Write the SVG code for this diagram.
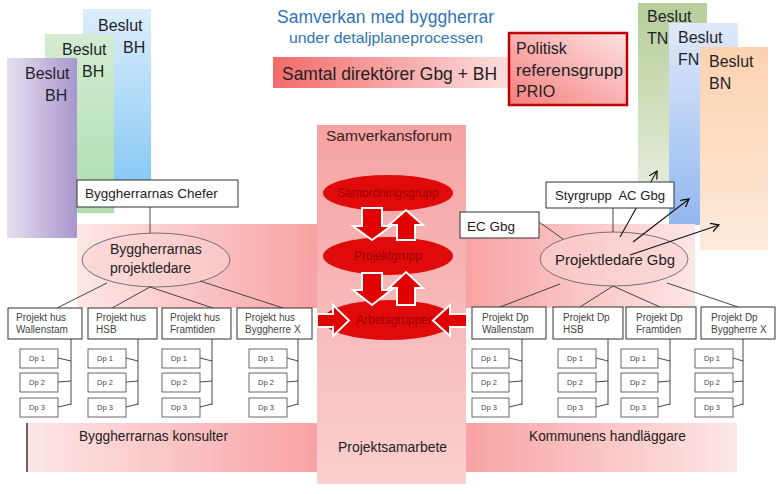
<svg xmlns="http://www.w3.org/2000/svg" width="783" height="494" viewBox="0 0 783 494">
<defs>
<linearGradient id="gPurple" x1="0" y1="0" x2="1" y2="0"><stop offset="0" stop-color="#e6dff0"/><stop offset="1" stop-color="#a897cb"/></linearGradient>
<linearGradient id="gGreenL" x1="0" y1="0" x2="0" y2="1"><stop offset="0" stop-color="#d3ecd3"/><stop offset="1" stop-color="#aedcae"/></linearGradient>
<linearGradient id="gBlueL" x1="0" y1="0" x2="0" y2="1"><stop offset="0" stop-color="#dceefb"/><stop offset="1" stop-color="#86c8f4"/></linearGradient>
<linearGradient id="gGreenR" x1="0" y1="0" x2="0" y2="1"><stop offset="0" stop-color="#b7cd9a"/><stop offset="1" stop-color="#e6eedb"/></linearGradient>
<linearGradient id="gBlueR" x1="0" y1="0" x2="0" y2="1"><stop offset="0" stop-color="#dfe9fb"/><stop offset="1" stop-color="#92b7ef"/></linearGradient>
<linearGradient id="gOrange" x1="0" y1="0" x2="0" y2="1"><stop offset="0" stop-color="#fbd2b0"/><stop offset="1" stop-color="#fdeadb"/></linearGradient>
<linearGradient id="gSamtal" x1="0" y1="0" x2="1" y2="0"><stop offset="0" stop-color="#f36b6b"/><stop offset="1" stop-color="#fde0e0"/></linearGradient>
<linearGradient id="gPolitisk" x1="0" y1="1" x2="1" y2="0"><stop offset="0" stop-color="#f57f7f"/><stop offset="1" stop-color="#fde2e2"/></linearGradient>
<linearGradient id="gBandL" x1="0" y1="0" x2="1" y2="0"><stop offset="0" stop-color="#fde6e6"/><stop offset="1" stop-color="#f8a3a3"/></linearGradient>
<linearGradient id="gBandR" x1="0" y1="0" x2="1" y2="0"><stop offset="0" stop-color="#f8a3a3"/><stop offset="1" stop-color="#fde6e6"/></linearGradient>
<linearGradient id="gCenter" x1="0" y1="0" x2="0" y2="1"><stop offset="0" stop-color="#f5a2a2"/><stop offset="1" stop-color="#fbcfcf"/></linearGradient>
<marker id="ah" viewBox="0 0 10 10" refX="9" refY="5" markerWidth="9" markerHeight="9" orient="auto" markerUnits="userSpaceOnUse"><path d="M0,0 L9,5 L0,10" fill="none" stroke="#000" stroke-width="1.3"/></marker>
</defs>
<style>
text{font-family:"Liberation Sans",Arial,sans-serif;fill:#222}
.bes{font-size:16px;fill:#1f1f2a}
.box{fill:#fff;stroke:#333;stroke-width:1}
.dp{fill:#fff;stroke:#444;stroke-width:0.8}
.pt{font-size:10px;fill:#444}
.dt{font-size:7.5px;fill:#444}
.ln{stroke:#333;stroke-width:0.9;fill:none}
.ar{stroke:#111;stroke-width:1.1;fill:none;marker-end:url(#ah)}
.blk{fill:#e00000;stroke:#fff;stroke-width:2}
.red{fill:#e00a0a}
.rt{font-size:12px;fill:#9c0000}
.pl{fill:#fad2d2;fill-opacity:0.55;stroke:#555;stroke-width:0.8}
</style>
<rect width="783" height="494" fill="#fff"/>

<g id="beslut-bh-3"><rect x="83" y="9" width="68" height="176" fill="url(#gBlueL)"/><text class="bes" x="98" y="31">Beslut</text><text class="bes" x="123" y="53">BH</text></g>
<g id="beslut-bh-2"><rect x="45" y="34" width="69" height="179" fill="url(#gGreenL)"/><text class="bes" x="62" y="55">Beslut</text><text class="bes" x="82" y="77">BH</text></g>
<g id="beslut-bh-1"><rect x="7" y="58" width="70" height="180" fill="url(#gPurple)"/><text class="bes" x="25" y="79">Beslut</text><text class="bes" x="45" y="101">BH</text></g>

<g id="beslut-tn"><rect x="638" y="3" width="69" height="192" fill="url(#gGreenR)"/><text class="bes" x="647" y="22">Beslut</text><text class="bes" x="647" y="44">TN</text></g>
<g id="beslut-fn"><rect x="669" y="23" width="69" height="202" fill="url(#gBlueR)"/><text class="bes" x="678" y="43">Beslut</text><text class="bes" x="678" y="65">FN</text></g>
<g id="beslut-bn"><rect x="700" y="47" width="68" height="203" fill="url(#gOrange)"/><text class="bes" x="709" y="67">Beslut</text><text class="bes" x="709" y="89">BN</text></g>

<g id="title">
<text x="385.5" y="23" text-anchor="middle" font-size="17.5" style="fill:#2e74b5" textLength="217" lengthAdjust="spacingAndGlyphs">Samverkan med byggherrar</text>
<text x="386" y="43" text-anchor="middle" font-size="14.5" style="fill:#2e74b5" textLength="194" lengthAdjust="spacingAndGlyphs">under detaljplaneprocessen</text>
</g>
<g id="samtal"><rect x="273" y="57" width="240" height="31" fill="url(#gSamtal)"/><text x="282" y="80" font-size="17.5" textLength="215" lengthAdjust="spacingAndGlyphs">Samtal direktörer Gbg + BH</text></g>
<g id="politisk"><rect x="509" y="33" width="118" height="72" fill="url(#gPolitisk)" stroke="#c00000" stroke-width="2.5"/><text x="516" y="54" font-size="16">Politisk</text><text x="516" y="76" font-size="16" textLength="107" lengthAdjust="spacingAndGlyphs">referensgrupp</text><text x="516" y="97" font-size="16">PRIO</text></g>

<g id="bands">
<rect x="77" y="224" width="240" height="84" fill="url(#gBandL)"/>
<rect x="466" y="224" width="229" height="84" fill="url(#gBandR)"/>
<rect x="27" y="423" width="290" height="49" fill="url(#gBandL)"/>
<rect x="466" y="423" width="271" height="49" fill="url(#gBandR)"/>
<line x1="27" y1="423" x2="27" y2="472" stroke="#333" stroke-width="1.5"/>
</g>
<g id="byggherrarnas-konsulter"><text x="79" y="441" font-size="14" textLength="149" lengthAdjust="spacingAndGlyphs">Byggherrarnas konsulter</text></g>
<g id="kommunens-handlaggare"><text x="529" y="441" font-size="14" textLength="157" lengthAdjust="spacingAndGlyphs">Kommunens handläggare</text></g>
<g id="samverkansforum"><rect x="317" y="125" width="149" height="359" fill="url(#gCenter)"/><text x="326" y="141" font-size="15.5" textLength="126" lengthAdjust="spacingAndGlyphs" style="fill:#3a2020">Samverkansforum</text><text x="338" y="452" font-size="14" textLength="109" lengthAdjust="spacingAndGlyphs">Projektsamarbete</text></g>

<g id="samordningsgrupp"><ellipse class="red" cx="388" cy="193" rx="65" ry="18"/><text class="rt" x="388" y="197" text-anchor="middle">Samordningsgrupp</text></g>
<g id="projektgrupp"><ellipse class="red" cx="388" cy="256" rx="65" ry="19"/><text class="rt" x="388" y="260" text-anchor="middle">Projektgrupp</text></g>
<g id="arbetsgrupper"><ellipse class="red" cx="389" cy="320" rx="66" ry="20"/><text class="rt" x="394" y="324" text-anchor="middle">Arbetsgrupper</text></g>

<g id="byggherrarnas-projektledare"><ellipse class="pl" cx="156" cy="260" rx="74" ry="27"/><text x="110" y="254" font-size="14">Byggherrarnas</text><text x="110" y="273" font-size="14">projektledare</text></g>
<g id="projektledare-gbg"><ellipse class="pl" cx="614" cy="259" rx="74" ry="27"/><text x="615" y="265" font-size="14.5" text-anchor="middle" textLength="120" lengthAdjust="spacingAndGlyphs">Projektledare Gbg</text></g>

<g id="connectors">
<line class="ln" x1="150" y1="207" x2="150" y2="233"/>
<line class="ln" x1="107" y1="283" x2="57" y2="308"/>
<line class="ln" x1="150" y1="287" x2="112" y2="308"/>
<line class="ln" x1="150" y1="287" x2="213" y2="308"/>
<line class="ln" x1="200" y1="281" x2="283" y2="308"/>
<line class="ln" x1="613" y1="208" x2="613" y2="232"/>
<line class="ln" x1="539" y1="222" x2="563" y2="239"/>
<line class="ln" x1="560" y1="284" x2="500" y2="307"/>
<line class="ln" x1="613" y1="286" x2="580" y2="307"/>
<line class="ln" x1="613" y1="286" x2="660" y2="307"/>
<line class="ln" x1="667" y1="283" x2="738" y2="307"/>
<path class="ln" d="M71,339 V405 M58,358 L71,361 M58,382 L71,381 M58,407 L71,404"/>
<path class="ln" d="M138,339 V405 M126,358 L138,361 M126,382 L138,381 M126,407 L138,404"/>
<path class="ln" d="M212,339 V405 M200,358 L212,361 M200,382 L212,381 M200,407 L212,404"/>
<path class="ln" d="M298,339 V405 M287,358 L298,361 M287,382 L298,381 M287,407 L298,404"/>
<path class="ln" d="M522,339 V405 M509,358 L522,361 M509,382 L522,381 M509,407 L522,404"/>
<path class="ln" d="M608,339 V405 M596,358 L608,361 M596,382 L608,381 M596,407 L608,404"/>
<path class="ln" d="M670,339 V405 M658,358 L670,361 M658,382 L670,381 M658,407 L670,404"/>
<path class="ln" d="M743,339 V405 M733,358 L743,361 M733,382 L743,381 M733,407 L743,404"/>
<line class="ar" x1="620" y1="237" x2="657" y2="171"/>
<line class="ar" x1="633" y1="242" x2="689" y2="199"/>
<line class="ar" x1="630" y1="255" x2="719" y2="225"/>
<path class="blk" d="M362,208 H382 V226 H391 L372,240 L353,226 H362 Z"/>
<path class="blk" d="M397,240 H415 V225 H423 L406,210 L389,225 H397 Z"/>
<path class="blk" d="M362,273 H382 V290 H391 L372,305 L353,290 H362 Z"/>
<path class="blk" d="M397,305 H415 V288 H423 L406,272 L389,288 H397 Z"/>
<path class="blk" d="M317,314 H333 V305 L349,320.5 L333,336 V327 H317 Z"/>
<path class="blk" d="M467,314 H450 V305 L433,320.5 L450,336 V327 H467 Z"/>
</g>

<g id="byggherrarnas-chefer"><rect class="box" x="77" y="180" width="161" height="27"/><text x="85" y="198" font-size="13.5">Byggherrarnas Chefer</text></g>
<g id="styrgrupp-ac-gbg"><rect class="box" x="546" y="182" width="128" height="26"/><text x="555" y="200" font-size="13.5" textLength="110" lengthAdjust="spacingAndGlyphs">Styrgrupp&#160; AC Gbg</text></g>
<g id="ec-gbg"><rect class="box" x="460" y="212" width="79" height="26"/><text x="467" y="231" font-size="13.5">EC Gbg</text></g>

<g id="hus-wallenstam"><rect class="box" x="8" y="308" width="74" height="31"/><text class="pt" x="16" y="321">Projekt hus</text><text class="pt" x="16" y="333">Wallenstam</text></g>
<g id="hus-hsb"><rect class="box" x="88" y="308" width="69" height="31"/><text class="pt" x="96" y="321">Projekt hus</text><text class="pt" x="96" y="333">HSB</text></g>
<g id="hus-framtiden"><rect class="box" x="162" y="308" width="69" height="31"/><text class="pt" x="170" y="321">Projekt hus</text><text class="pt" x="170" y="333">Framtiden</text></g>
<g id="hus-byggherre-x"><rect class="box" x="237" y="308" width="75" height="31"/><text class="pt" x="245" y="321">Projekt hus</text><text class="pt" x="245" y="333">Byggherre X</text></g>

<g id="dp-wallenstam"><rect class="box" x="472" y="307" width="74" height="32"/><text class="pt" x="482" y="321">Projekt Dp</text><text class="pt" x="482" y="333">Wallenstam</text></g>
<g id="dp-hsb"><rect class="box" x="553" y="307" width="70" height="32"/><text class="pt" x="563" y="321">Projekt Dp</text><text class="pt" x="563" y="333">HSB</text></g>
<g id="dp-framtiden"><rect class="box" x="626" y="307" width="70" height="32"/><text class="pt" x="636" y="321">Projekt Dp</text><text class="pt" x="636" y="333">Framtiden</text></g>
<g id="dp-byggherre-x"><rect class="box" x="701" y="307" width="74" height="32"/><text class="pt" x="711" y="321">Projekt Dp</text><text class="pt" x="711" y="333">Byggherre X</text></g>

<g id="dp-boxes-l1"><rect class="dp" x="20" y="349" width="38" height="19"/><text class="dt" x="29" y="361">Dp 1</text><rect class="dp" x="20" y="373" width="38" height="19"/><text class="dt" x="29" y="385">Dp 2</text><rect class="dp" x="20" y="398" width="38" height="19"/><text class="dt" x="29" y="410">Dp 3</text></g>
<g id="dp-boxes-l2"><rect class="dp" x="88" y="349" width="38" height="19"/><text class="dt" x="97" y="361">Dp 1</text><rect class="dp" x="88" y="373" width="38" height="19"/><text class="dt" x="97" y="385">Dp 2</text><rect class="dp" x="88" y="398" width="38" height="19"/><text class="dt" x="97" y="410">Dp 3</text></g>
<g id="dp-boxes-l3"><rect class="dp" x="162" y="349" width="38" height="19"/><text class="dt" x="171" y="361">Dp 1</text><rect class="dp" x="162" y="373" width="38" height="19"/><text class="dt" x="171" y="385">Dp 2</text><rect class="dp" x="162" y="398" width="38" height="19"/><text class="dt" x="171" y="410">Dp 3</text></g>
<g id="dp-boxes-l4"><rect class="dp" x="249" y="349" width="38" height="19"/><text class="dt" x="258" y="361">Dp 1</text><rect class="dp" x="249" y="373" width="38" height="19"/><text class="dt" x="258" y="385">Dp 2</text><rect class="dp" x="249" y="398" width="38" height="19"/><text class="dt" x="258" y="410">Dp 3</text></g>
<g id="dp-boxes-r1"><rect class="dp" x="472" y="349" width="37" height="19"/><text class="dt" x="481" y="361">Dp 1</text><rect class="dp" x="472" y="373" width="37" height="19"/><text class="dt" x="481" y="385">Dp 2</text><rect class="dp" x="472" y="398" width="37" height="19"/><text class="dt" x="481" y="410">Dp 3</text></g>
<g id="dp-boxes-r2"><rect class="dp" x="558" y="349" width="38" height="19"/><text class="dt" x="567" y="361">Dp 1</text><rect class="dp" x="558" y="373" width="38" height="19"/><text class="dt" x="567" y="385">Dp 2</text><rect class="dp" x="558" y="398" width="38" height="19"/><text class="dt" x="567" y="410">Dp 3</text></g>
<g id="dp-boxes-r3"><rect class="dp" x="621" y="349" width="37" height="19"/><text class="dt" x="630" y="361">Dp 1</text><rect class="dp" x="621" y="373" width="37" height="19"/><text class="dt" x="630" y="385">Dp 2</text><rect class="dp" x="621" y="398" width="37" height="19"/><text class="dt" x="630" y="410">Dp 3</text></g>
<g id="dp-boxes-r4"><rect class="dp" x="695" y="349" width="38" height="19"/><text class="dt" x="704" y="361">Dp 1</text><rect class="dp" x="695" y="373" width="38" height="19"/><text class="dt" x="704" y="385">Dp 2</text><rect class="dp" x="695" y="398" width="38" height="19"/><text class="dt" x="704" y="410">Dp 3</text></g>
</svg>
